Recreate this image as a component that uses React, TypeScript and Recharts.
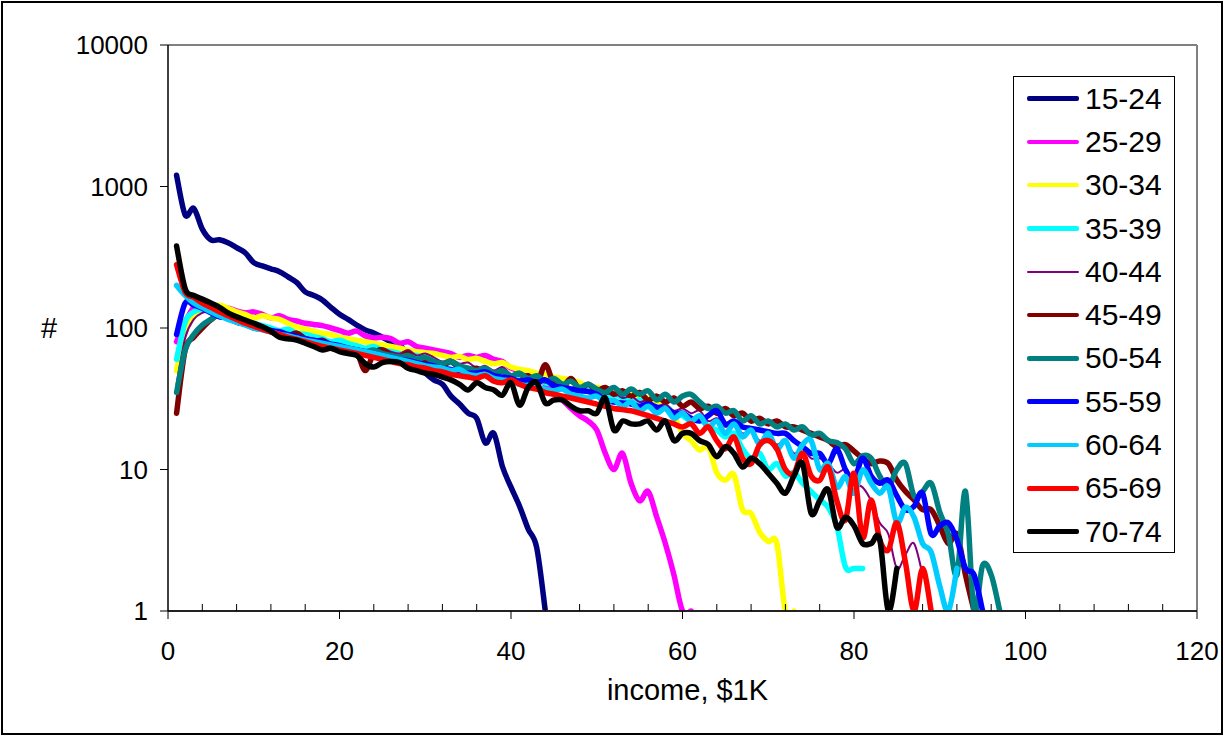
import React from 'react';
import { LineChart, Line, XAxis, YAxis, Legend, ReferenceLine } from 'recharts';

const FONT = '"Liberation Sans", Arial, sans-serif';

const ageGroups = ['15-24', '25-29', '30-34', '35-39', '40-44', '45-49', '50-54', '55-59', '60-64', '65-69', '70-74'];
const seriesColors = ['#000080', '#FF00FF', '#FFFF00', '#00FFFF', '#800080', '#800000', '#008080', '#0000FF', '#00CCFF', '#FF0000', '#000000'];
const seriesWidths = [5.5, 5.5, 5.5, 5.5, 2, 5.5, 5.5, 5.5, 5.5, 5.5, 5.5];
const legendWidths = [4.5, 4.5, 4.5, 4.5, 2, 4.5, 4.5, 4.5, 4.5, 4.5, 4.5];

// counts per $1K income bucket, starting at income = 1
const s1524 = [1200,630,700,500,420,420,400,370,340,290, 275,262,250,230,210,180,170,158,140,125, 115,105,97,92,86,80,76,65,56,48, 43,40,33,29,25,23,15.4,18,10.5,7.5, 5.5,3.8,2.8,1];
const s2529 = [80,110,140,150,145,140,138,132,128,130, 125,118,122,115,112,108,106,104,100,96, 92,95,88,85,86,84,78,80,74,72, 70,68,66,62,64,62,64,60,58,52, 50,48,45,40,35,31,27,24,22,19, 13,10,13,8,6,7,4.6,3,1.8,1, 1];
const s3034 = [50,95,120,135,140,145,138,130,125,118, 122,118,115,108,102,98,95,92,90,86, 84,82,80,78,76,74,72,70,68,67, 66,64,62,63,60,61,58,56,57,53, 51,50,48,47,45,44,43,41,39,38, 37,36,35,34,33,32,30,28, 24,18,16,13.7,14.5,9.5,8.4,9.2,5.2,4.9,3.6,3.1,3,1,1];
const s3539 = [60,110,130,135,132,128,125,120,112,108, 104,100,96,98,92,90,87,84,80,82, 78,75,72,74,70,68,66,63,64,60, 58,56,57,53,52,50,49,47,48,45, 44,42,43,41,40,38,37,36,37,35, 33,34,32,30,31,29,27,28,25,24, 22,23,20,19,17,18,14,12,13,10, 11,9,9.5,8,7,6.1,5.4,4,2.05,2, 2];
const s4044 = [40,85,115,128,132,128,120,115,110,106, 100,98,94,90,92,86,84,82,78,76, 74,72,70,68,72,68,66,70,64,66, 62,58,60,56,57,52,54,50,53,47, 46,47,43,44,41,41,38,39,36,37, 34,35,32,33,30,31,28,29,26,27, 25,26,22,23,20,21,18,19,16,17, 15,16,13,14,12,12,11,9.5,10,8, 7.5,6,4.2,3.5,2,2.5,3,1.8];
const s4549 = [25,70,86,100,114,125,118,110,106,100, 98,94,90,88,92,84,80,82,76,74, 70,68,50,66,70,64,62,66,58,60, 56,54,58,52,50,52,48,46,50,44, 42,46,40,55,40,38,44,37,40,36, 38,34,36,33,35,31,33,30,32,28, 30,27,28,25,27,24,25,22,23,21, 22,20,20,19,18,17,16,14.5,15,13.5, 12,11,11.5,11,8.4,7,6.1,5.2,5.2,4, 3,3.5,1.8,1];
const s5054 = [35,70,90,105,115,125,120,112,106,102, 98,95,92,88,86,84,80,78,76,74, 72,70,68,70,66,64,62,64,60,62, 58,56,58,54,52,50,52,48,50,46, 48,44,46,42,44,40,42,38,40,37, 35,38,34,37,34,36,31,34,30,33, 34,30,27,28,25,26,22,24,21,22, 20,21,19,20,17.5,18,16,15.5,14,11, 12.5,12,9,7.5,10,11,6.5,7,8,5, 3.5,1.8,7,1,2.1,1.8,1];
const s5559 = [90,150,145,138,128,120,118,112,106,104, 100,96,94,90,87,84,82,80,77,75, 72,70,68,66,64,62,60,59,57,55, 54,52,51,50,48,48,49,46,45,44, 42,43,41,43,39,38,37,36,35.5,34, 31,30,29.5,29,28,29,27.6,27,25,25, 23,22,24,26,21,22,20,19.5,19,18.5, 18,18,16,14.5,13,13,11,14,10,8.5, 12,9,8,8.4,6.5,5.2,5.5,6.8,3.5,4, 4.2,3.2,2,1.8,1];
const s6064 = [200,170,150,140,130,122,115,110,105,100, 97,94,90,88,85,82,80,78,76,74, 72,70,68,66,64,62,60,58,56,54, 53,52,50,51,47,46,47,44,43,42, 40,39,38,37,36,37,34,33,32,33, 30,31,28,30,26,28,25,27,23,25, 22,24,20,22,18,21,17,19,15,18, 14,16,12,15,16,10,11,7.5,8.9,6.8, 9.9,8,6.8,7.5,4.2,5.4,4.6,3,2.6,1.5, 1,2];
const s6569 = [280,180,165,150,140,130,122,115,108,103, 98,94,90,86,83,80,77,74,72,70, 68,66,64,62,60,58,56,55,53,52, 50,49,47,46,45,44,46,42,41,43, 40,38,37,35,34,33,32,31,30,29, 28,27,26.5,26,25,24,23,22,21,20, 21,18,20,16,14,17,12,11,15,16, 14,10,9.4,13,9,8.4,10.4,6,4.4,9.4, 3.3,6.1,3.2,2.7,4.2,2.2,1,2,1];
const s7074 = [380,190,170,160,150,140,128,120,114,108, 102,95,86,84,82,78,74,70,72,68, 66,64,56,53,57,58,57,52,50,48, 47,45,43,40,36.5,41,38,36.5,33.5,41, 28.5,38,41,29.5,31,31,28,26,26,25, 32,19,22,21,21,22,19,22,16,18, 18,16,15,12.3,14.5,13,10.4,12,11,9.4, 8,6.8,9,11,4.9,6,7.2,3.9,4.6,4, 3,3,3.2,1,2];

const allSeries = [s1524, s2529, s3034, s3539, s4044, s4549, s5054, s5559, s6064, s6569, s7074];

const incomeK = Array.from({ length: 97 }, (_, i) => i + 1);
const rows = incomeK.map((x, i) => {
  const r: any = { x };
  allSeries.forEach((s, k) => {
    if (i < s.length) r['s' + k] = s[i];
  });
  return r;
});

const xTicks = [0, 4, 8, 12, 16, 20, 24, 28, 32, 36, 40, 44, 48, 52, 56, 60, 64, 68, 72, 76, 80, 84, 88, 92, 96, 100, 104, 108, 112, 116, 120];
const xMajor = [0, 20, 40, 60, 80, 100, 120];
const yTicks = [1, 10, 100, 1000, 10000];

// Catmull-Rom style smoothing (like spreadsheet "smoothed line")
const smoothCurve = (context: any) => {
  let pts: number[][] = [];
  let area = NaN;
  return {
    areaStart() { area = 0; },
    areaEnd() { area = NaN; },
    lineStart() { pts = []; },
    point(x: number, y: number) { pts.push([+x, +y]); },
    lineEnd() {
      const n = pts.length;
      if (!n) return;
      if (area === 0) context.lineTo(pts[0][0], pts[0][1]);
      else context.moveTo(pts[0][0], pts[0][1]);
      for (let i = 0; i < n - 1; i++) {
        const p0 = pts[Math.max(i - 1, 0)];
        const p1 = pts[i];
        const p2 = pts[i + 1];
        const p3 = pts[Math.min(i + 2, n - 1)];
        context.bezierCurveTo(
          p1[0] + (p2[0] - p0[0]) / 6, p1[1] + (p2[1] - p0[1]) / 6,
          p2[0] - (p3[0] - p1[0]) / 6, p2[1] - (p3[1] - p1[1]) / 6,
          p2[0], p2[1]
        );
      }
    },
  };
};

const XTick = (props: any) => {
  const { x, y, payload } = props;
  const v = payload.value;
  const major = xMajor.includes(v);
  return (
    <g>
      <line x1={x} x2={x} y1={major ? y : y - 7} y2={major ? y + 8 : y} stroke="#000" strokeWidth={1} />
      {major ? (
        <text x={x} y={y + 49} textAnchor="middle" fontSize={26} fontFamily={FONT} fill="#000">{v}</text>
      ) : null}
    </g>
  );
};

const LegendBox = () => (
  <div style={{ width: 162, height: 477, border: '1px solid #000', boxSizing: 'border-box', background: '#fff', fontFamily: FONT }}>
    {ageGroups.map((g, i) => (
      <div key={g} style={{ height: 43.3, display: 'flex', alignItems: 'center' }}>
        <div style={{ marginLeft: 13, width: 52, height: legendWidths[i], background: seriesColors[i], borderRadius: 2 }} />
        <span style={{ marginLeft: 6, fontSize: 30, lineHeight: '30px', color: '#000' }}>{g}</span>
      </div>
    ))}
  </div>
);

export default function App() {
  return (
    <div style={{ position: 'absolute', left: 0, top: 0, width: 1225, height: 736, background: '#fff' }}>
      <LineChart width={1225} height={736} data={rows} margin={{ top: 45, right: 28, left: 0, bottom: 0 }}>
        <XAxis
          dataKey="x"
          type="number"
          domain={[0, 120]}
          ticks={xTicks}
          interval={0}
          allowDataOverflow
          height={125}
          tickSize={0}
          tickMargin={0}
          tickLine={false}
          tick={<XTick />}
          axisLine={{ stroke: '#222', strokeWidth: 2 }}
          label={{ value: 'income, $1K', position: 'insideBottom', offset: 36, dx: 5, fontSize: 29, fill: '#000', fontFamily: FONT }}
        />
        <YAxis
          scale="log"
          domain={[1, 10000]}
          ticks={yTicks}
          allowDataOverflow
          interval={0}
          width={168}
          tickSize={8}
          tickMargin={12}
          tickLine={{ stroke: '#000' }}
          axisLine={{ stroke: '#000', strokeWidth: 1.5 }}
          tick={{ fontSize: 26, fill: '#000', fontFamily: FONT }}
          label={{ value: '#', position: 'insideLeft', offset: 41, angle: 0, fontSize: 29, fill: '#000', fontFamily: FONT }}
        />
        <ReferenceLine y={10000} stroke="#808080" strokeWidth={2} />
        <ReferenceLine x={120} stroke="#808080" strokeWidth={2} />
        {ageGroups.map((g, k) => (
          <Line
            key={g}
            name={g}
            dataKey={'s' + k}
            type={smoothCurve as any}
            stroke={seriesColors[k]}
            strokeWidth={seriesWidths[k]}
            style={{ strokeWidth: seriesWidths[k] }}
            strokeLinejoin="round"
            strokeLinecap="round"
            dot={false}
            activeDot={false}
            isAnimationActive={false}
          />
        ))}
        <Legend
          layout="vertical"
          align="center"
          verticalAlign="middle"
          wrapperStyle={{ position: 'absolute', left: 1013, top: 76, width: 162, height: 477 }}
          content={() => <LegendBox />}
        />
      </LineChart>
      <div style={{ position: 'absolute', left: 1, top: 1, width: 1222, height: 734, border: '2px solid #000', boxSizing: 'border-box', pointerEvents: 'none' }} />
    </div>
  );
}
